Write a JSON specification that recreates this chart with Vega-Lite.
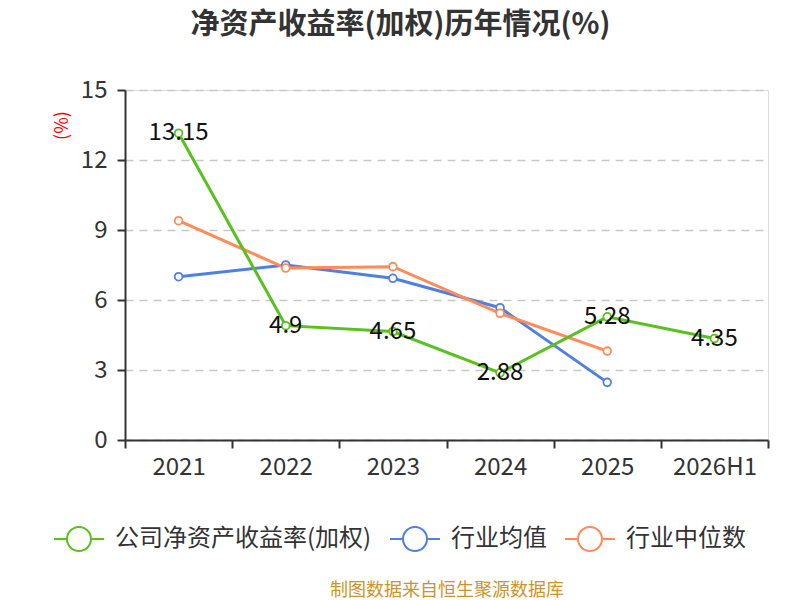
{
  "$schema": "https://vega.github.io/schema/vega-lite/v6.json",
  "autosize": "none",
  "width": 643,
  "height": 350,
  "padding": {"left": 125, "top": 90, "right": 32, "bottom": 160},
  "background": "white",
  "title": {
    "text": "净资产收益率(加权)历年情况(%)",
    "anchor": "middle",
    "frame": "group",
    "dx": -46,
    "offset": 38,
    "fontSize": 29,
    "fontWeight": "bold",
    "color": "#333333",
    "font": "Noto Sans CJK SC"
  },
  "data": {
    "values": [
      {"year": "2021", "series": "行业均值", "value": 7.0},
      {"year": "2022", "series": "行业均值", "value": 7.5},
      {"year": "2023", "series": "行业均值", "value": 6.93},
      {"year": "2024", "series": "行业均值", "value": 5.67},
      {"year": "2025", "series": "行业均值", "value": 2.47},
      {"year": "2021", "series": "行业中位数", "value": 9.4},
      {"year": "2022", "series": "行业中位数", "value": 7.37},
      {"year": "2023", "series": "行业中位数", "value": 7.43},
      {"year": "2024", "series": "行业中位数", "value": 5.43},
      {"year": "2025", "series": "行业中位数", "value": 3.81},
      {"year": "2021", "series": "公司净资产收益率(加权)", "value": 13.15},
      {"year": "2022", "series": "公司净资产收益率(加权)", "value": 4.9},
      {"year": "2023", "series": "公司净资产收益率(加权)", "value": 4.65},
      {"year": "2024", "series": "公司净资产收益率(加权)", "value": 2.88},
      {"year": "2025", "series": "公司净资产收益率(加权)", "value": 5.28},
      {"year": "2026H1", "series": "公司净资产收益率(加权)", "value": 4.35}
    ]
  },
  "encoding": {
    "x": {
      "field": "year",
      "type": "ordinal",
      "bandPosition": 0.5,
      "scale": {"type": "band", "paddingInner": 0, "paddingOuter": 0, "domain": ["2021", "2022", "2023", "2024", "2025", "2026H1"]},
      "axis": {
        "title": "制图数据来自恒生聚源数据库",
        "titleFontSize": 18,
        "titleFontWeight": "normal",
        "titleColor": "#c8962a",
        "titlePadding": 102,
        "titleFont": "Noto Sans CJK SC",
        "labelAngle": 0,
        "labelFontSize": 24,
        "labelColor": "#333333",
        "labelPadding": 7,
        "labelFont": "Noto Sans CJK SC",
        "tickBand": "extent",
        "tickSize": 8,
        "tickColor": "#333333",
        "tickWidth": 2,
        "domainColor": "#333333",
        "domainWidth": 2,
        "grid": false
      }
    },
    "y": {
      "field": "value",
      "type": "quantitative",
      "scale": {"domain": [0, 15], "nice": false},
      "axis": {
        "title": "(%)",
        "titleColor": "red",
        "titleFontSize": 18,
        "titleFontWeight": "normal",
        "titleFont": "Noto Sans CJK SC",
        "titleAngle": 270,
        "titleAlign": "center",
        "titleBaseline": "middle",
        "titleX": -63,
        "titleY": 35,
        "values": [0, 3, 6, 9, 12, 15],
        "labelFontSize": 24,
        "labelColor": "#333333",
        "labelPadding": 10,
        "labelFont": "Noto Sans CJK SC",
        "tickSize": 8,
        "tickColor": "#333333",
        "tickWidth": 2,
        "domainColor": "#333333",
        "domainWidth": 2,
        "grid": true,
        "gridColor": "#c8c8c8",
        "gridDash": [8, 6],
        "gridWidth": 1.5
      }
    }
  },
  "layer": [
    {
      "mark": {
        "type": "line",
        "strokeWidth": 3,
        "point": {"filled": false, "fill": "white", "size": 60, "strokeWidth": 1.8}
      },
      "encoding": {
        "color": {
          "field": "series",
          "type": "nominal",
          "scale": {
            "domain": ["公司净资产收益率(加权)", "行业均值", "行业中位数"],
            "range": ["#58c11e", "#4f80e0", "#ff8b59"]
          },
          "legend": {
            "title": null,
            "orient": "none",
            "direction": "horizontal",
            "columns": 3,
            "legendX": -72,
            "legendY": 423,
            "columnPadding": 14,
            "labelFontSize": 24,
            "labelLimit": 0,
            "labelColor": "#333333",
            "labelFont": "Noto Sans CJK SC",
            "labelOffset": 10,
            "symbolType": "M-1,0L-0.48,0M0.48,0L1,0M0.48,0A0.48,0.48,0,1,1,-0.48,0A0.48,0.48,0,1,1,0.48,0",
            "symbolSize": 2500,
            "symbolStrokeWidth": 2,
            "symbolFillColor": "white"
          }
        }
      }
    },
    {
      "transform": [{"filter": "datum.series == '公司净资产收益率(加权)'"}],
      "mark": {"type": "text", "fontSize": 24, "color": "#111111", "baseline": "middle", "align": "center", "font": "Noto Sans CJK SC"},
      "encoding": {
        "text": {"field": "value", "type": "quantitative"}
      }
    }
  ]
}
